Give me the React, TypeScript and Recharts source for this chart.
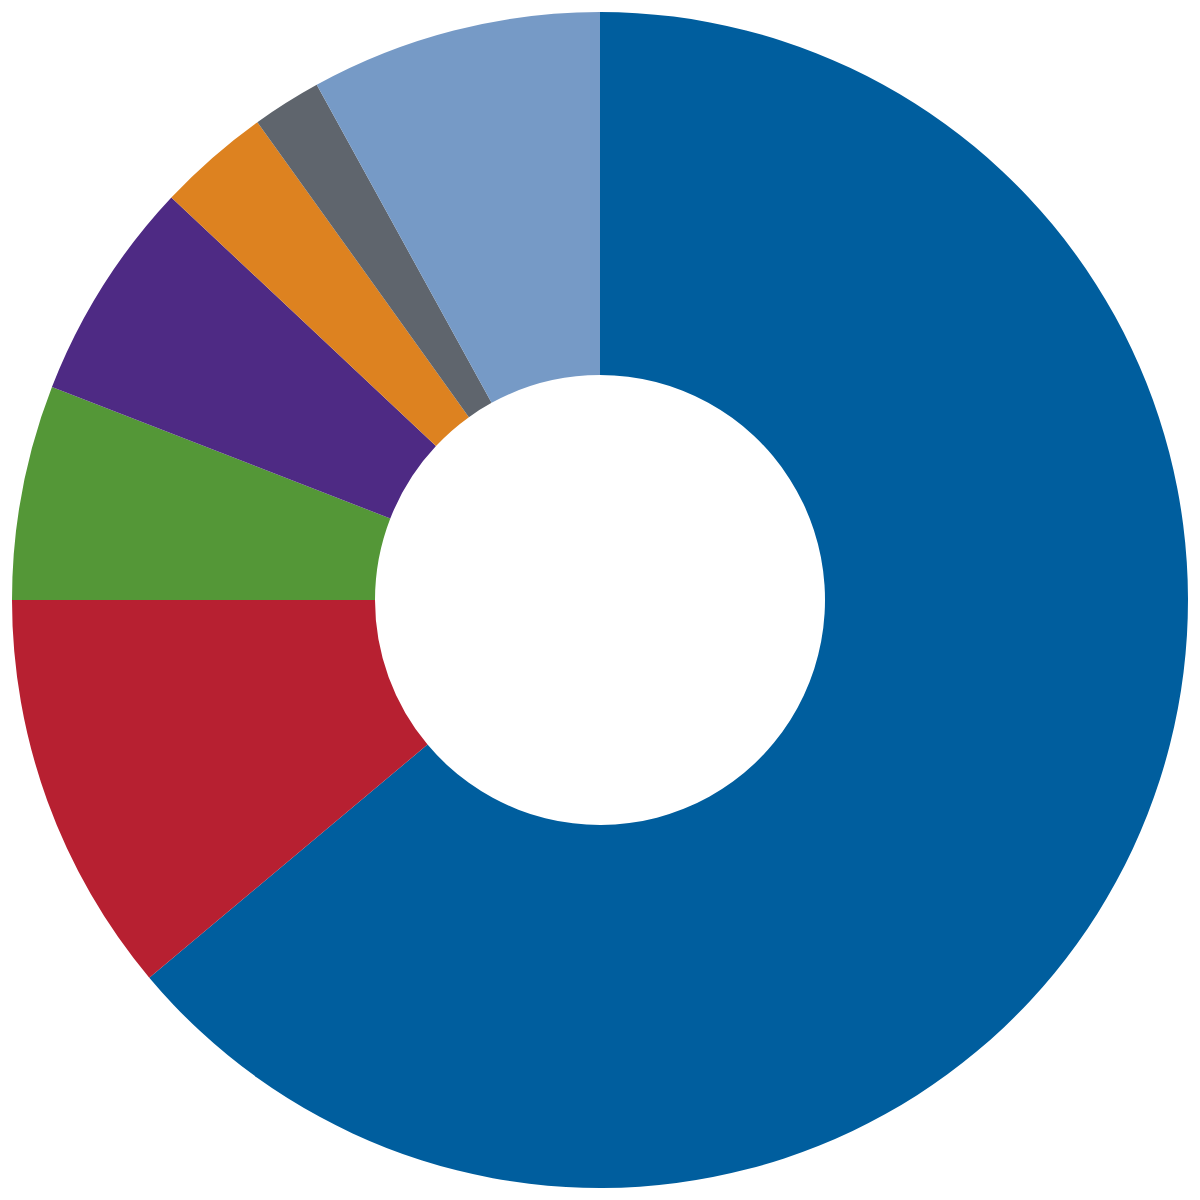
import { Cell, Pie, PieChart } from "recharts";

// Shares in percent, clockwise from 12 o'clock
const categories = ["A", "B", "C", "D", "E", "F", "G"];
const values = [63.9, 11.1, 5.9, 6.1, 3.1, 1.9, 8.0];
const colors = [
  "#005e9e",
  "#b72031",
  "#549737",
  "#4e2a84",
  "#dd8220",
  "#5f656d",
  "#769ac6",
];

const data = categories.map((name, i) => ({ name, value: values[i] }));

export default function App() {
  return (
    <div style={{ position: "absolute", left: 0, top: 0 }}>
      <PieChart
        width={1200}
        height={1200}
        margin={{ top: 0, right: 0, bottom: 0, left: 0 }}
      >
        <Pie
          data={data}
          dataKey="value"
          nameKey="name"
          cx={600}
          cy={600}
          innerRadius={225}
          outerRadius={588}
          startAngle={90}
          endAngle={-270}
          stroke="none"
          isAnimationActive={false}
        >
          {data.map((d, i) => (
            <Cell key={d.name} fill={colors[i]} />
          ))}
        </Pie>
      </PieChart>
    </div>
  );
}
